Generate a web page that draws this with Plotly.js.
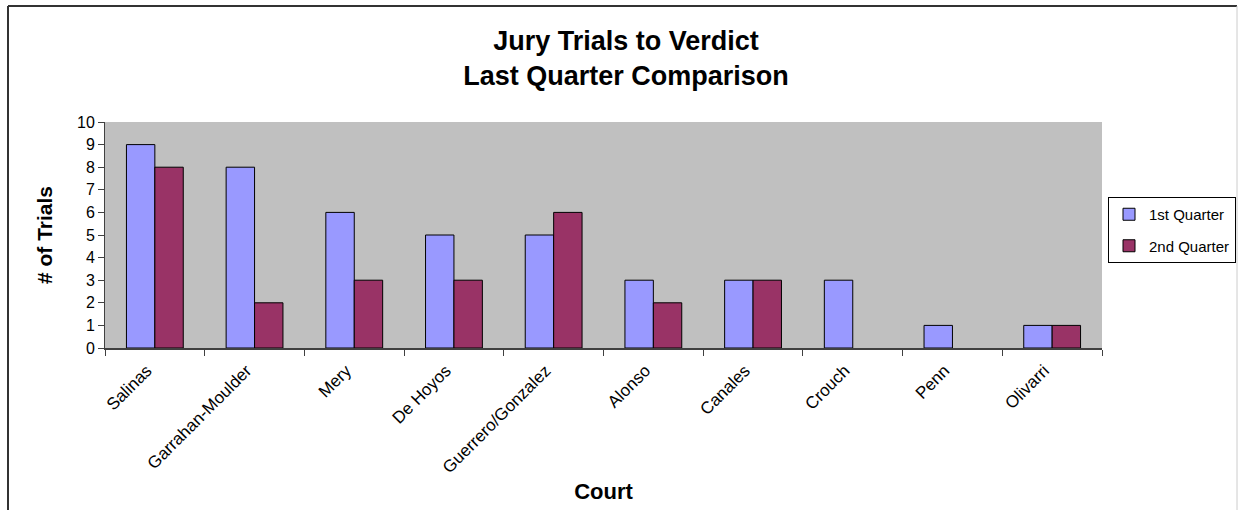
<!DOCTYPE html>
<html><head><meta charset="utf-8">
<script src="https://cdn.plot.ly/plotly-3.0.1.min.js"></script>
<style>html,body{margin:0;padding:0;background:#fff}#chart{width:1238px;height:510px}</style>
</head><body><div id="chart"></div>
<script>
const courts = ["Salinas","Garrahan-Moulder","Mery","De Hoyos","Guerrero/Gonzalez","Alonso","Canales","Crouch","Penn","Olivarri"];
const q1 = [9,8,6,5,5,3,3,3,1,1];
const q2 = [8,2,3,3,6,2,3,0,0,1];
const seriesNames = ["1st Quarter","2nd Quarter"];
const seriesColors = ["#9999FF","#993366"];

const F = "Liberation Sans, Arial, sans-serif";
const traces = [q1,q2].map((v,i)=>({
  type:"bar", x:courts, y:v, name:seriesNames[i], legendgroup:"g"+i,
  marker:{color:seriesColors[i], line:{color:"#000", width:v.map(d=>d>0?1:0)}},
  hoverinfo:"x+y+name"
}));
const L=105, R=1102, T=122, B=348;
const px = x => (x-L)/(R-L), py = y => (B-y)/(B-T);
const layout = {
  width:1238, height:510,
  margin:{l:L, r:1238-R, t:T, b:510-B, pad:0, autoexpand:false},
  paper_bgcolor:"#fff", plot_bgcolor:"#C0C0C0",
  barmode:"group", bargap:0.43, bargroupgap:0,
  font:{family:F, size:14, color:"#000"},
  title:{text:"<b>Jury Trials to Verdict<br>Last Quarter Comparison</b>", font:{family:F,size:27,color:"#000"},
         x:626/1238, xanchor:"center", y:1-50/510, yanchor:"middle"},
  xaxis:{type:"category", tickangle:-45, ticks:"outside", tickson:"boundaries", ticklen:6, tickcolor:"#404040",
         showline:true, linecolor:"#404040", linewidth:2, showgrid:false, zeroline:false,
         tickfont:{family:F,size:17,color:"#000"}, ticklabelshift:-8, ticklabelstandoff:4,
         title:{text:"<b>Court</b>", font:{family:F,size:22,color:"#000"}, standoff:8}},
  yaxis:{range:[0,10], dtick:1, ticks:"outside", ticklen:6, tickcolor:"#404040",
         showline:true, linecolor:"#404040", linewidth:1, showgrid:false, zeroline:false,
         tickfont:{family:F,size:16,color:"#000"},
         title:{text:"<b># of Trials</b>", font:{family:F,size:21,color:"#000"}, standoff:18}},
  legend:{x:px(1108), xanchor:"left", y:py(230), yanchor:"middle", bordercolor:"#000", borderwidth:1,
          font:{family:F,size:15,color:"#000"}, bgcolor:"#fff", tracegroupgap:9, itemwidth:30},
  showlegend:true,
  shapes:[
    {type:"line", xref:"paper", yref:"paper", x0:px(8), x1:px(1237), y0:py(6), y1:py(6), line:{color:"#333",width:2}},
    {type:"line", xref:"paper", yref:"paper", x0:px(8), x1:px(8), y0:py(6), y1:py(515), line:{color:"#333",width:2}},
    {type:"line", xref:"paper", yref:"paper", x0:px(1237), x1:px(1237), y0:py(6), y1:py(515), line:{color:"#ccc",width:1}}
  ]
};
Plotly.newPlot("chart", traces, layout, {displayModeBar:false, staticPlot:true});
</script></body></html>
